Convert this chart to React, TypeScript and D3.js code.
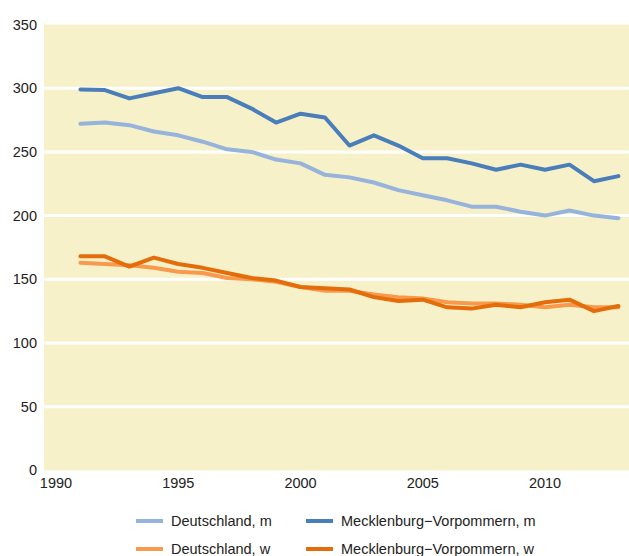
import React from "react";
import * as d3 from "d3";

const years = d3.range(1991, 2014);
const deM = [272, 273, 271, 266, 263, 258, 252, 250, 244, 241, 232, 230, 226, 220, 216, 212, 207, 207, 203, 200, 204, 200, 198];
const mvM = [299, 298.5, 292, 296, 300, 293, 293, 284, 273, 280, 277, 255, 263, 255, 245, 245, 241, 236, 240, 236, 240, 227, 231];
const deW = [163, 162, 161, 159, 156, 155, 151, 150, 148, 144, 141, 141, 138, 136, 135, 132, 131, 131, 130, 128, 130, 128, 128];
const mvW = [168, 168, 160, 167, 162, 159, 155, 151, 149, 144, 143, 142, 136, 133, 134, 128, 127, 130, 128, 132, 134, 125, 129];
const yTicks = [0, 50, 100, 150, 200, 250, 300, 350];
const xTicks = [1990, 1995, 2000, 2005, 2010];

const series = [
  { name: "Deutschland, m", values: deM, color: "#95B3DB" },
  { name: "Mecklenburg\u2212Vorpommern, m", values: mvM, color: "#4A7EBB" },
  { name: "Deutschland, w", values: deW, color: "#F9994C" },
  { name: "Mecklenburg\u2212Vorpommern, w", values: mvW, color: "#E46C0A" },
];

const font = "'Liberation Sans', Arial, sans-serif";

export default function App() {
  const left = 44, right = 629, top = 24.5, bottom = 470.4;
  const x = d3.scaleLinear().domain([1990, 2013]).range([56, 618.4]);
  const y = d3.scaleLinear().domain([0, 350]).range([bottom, top]);
  const line = d3.line<number>()
    .x((d, i) => x(years[i]))
    .y(d => y(d));

  // legend placement
  const legendCols = [136, 306];
  const legendRows = [521, 549];

  return (
    <svg width={629} height={556} style={{ position: "absolute", left: 0, top: 0 }} fontFamily={font}>
      <rect x={0} y={0} width={629} height={556} fill="#fff" />
      <rect x={left} y={top} width={right - left} height={bottom - top} fill="#F7F1C9" />
      {yTicks.filter(t => t > 0 && t < 350).map(t => (
        <line key={t} x1={left} x2={right} y1={y(t)} y2={y(t)} stroke="#fff" strokeWidth={3} />
      ))}
      {yTicks.map(t => (
        <text key={t} x={37} y={y(t)} dy="0.35em" textAnchor="end" fontSize={14.5} fill="#222">{t}</text>
      ))}
      {xTicks.map(t => (
        <text key={t} x={x(t)} y={488} textAnchor="middle" fontSize={14.5} fill="#222">{t}</text>
      ))}
      {series.map(s => (
        <path key={s.name} d={line(s.values) || ""} fill="none" stroke={s.color} strokeWidth={4}
          strokeLinejoin="round" strokeLinecap="round" />
      ))}
      {series.map((s, i) => {
        const cx = legendCols[i % 2];
        const cy = legendRows[Math.floor(i / 2)];
        return (
          <g key={s.name}>
            <line x1={cx} x2={cx + 27} y1={cy} y2={cy} stroke={s.color} strokeWidth={4} />
            <text x={cx + 35} y={cy} dy="0.35em" fontSize={14.5} fill="#222">{s.name}</text>
          </g>
        );
      })}
    </svg>
  );
}
